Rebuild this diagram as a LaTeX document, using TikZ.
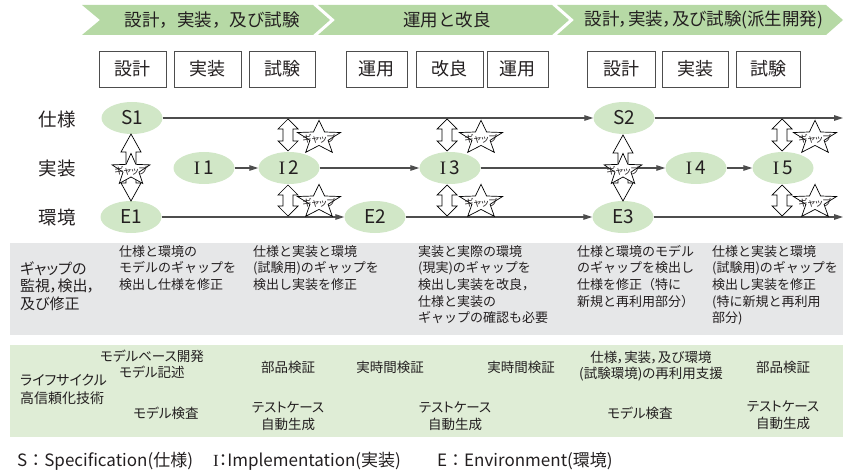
\documentclass[tikz,border=0pt]{standalone}
\usepackage{fontspec}
\setmainfont{Noto Sans CJK JP}
\newfontfamily\pfont{Noto Sans CJK JP}[RawFeature=+palt]
\newfontfamily\serI{Liberation Serif}
\usetikzlibrary{arrows.meta,shapes.geometric}
\definecolor{chev}{HTML}{B6D9A5}
\definecolor{ellfill}{HTML}{D1E7C7}
\definecolor{graypanel}{HTML}{E6E7E8}
\definecolor{greenpanel}{HTML}{DFEDD6}
\definecolor{txt}{HTML}{231F20}
\definecolor{ln}{HTML}{4D4D4D}
\newcommand\blockarrow[4]{%
\draw[barrow] (#1,#2) -- ({#1+10},{#2+#4}) -- ({#1+5},{#2+#4}) -- ({#1+5},{#3-#4}) -- ({#1+10},{#3-#4}) -- (#1,#3) -- ({#1-10},{#3-#4}) -- ({#1-5},{#3-#4}) -- ({#1-5},{#2+#4}) -- ({#1-10},{#2+#4}) -- cycle;}
\newcommand\gapstar[4]{%
\begin{scope}[shift={(#1,#2)},xscale=#4]
\draw[starsty] (-90:#3) -- (-54:{0.42*#3}) -- (-18:#3) -- (18:{0.42*#3}) -- (54:#3) -- (90:{0.42*#3}) -- (126:#3) -- (162:{0.42*#3}) -- (198:#3) -- (234:{0.42*#3}) -- cycle;
\end{scope}
\node[gaptext] at (#1,{#2+1}) {ギャップ};}
\begin{document}
\begin{tikzpicture}[x=1pt,y=-1pt,
 every node/.style={text=txt, inner sep=0pt},
 phasebox/.style={draw=ln, line width=0.8pt, minimum height=36pt, font=\fontsize{18}{18}\selectfont},
 chevtext/.style={font=\fontsize{17.5}{17.5}\selectfont},
 rowlabel/.style={font=\fontsize{18.5}{18.5}\selectfont},
 state/.style={ellipse, fill=ellfill, minimum width=61pt, minimum height=32pt, font=\fontsize{19}{19}\selectfont},
 flow/.style={draw=ln, line width=1.1pt, -{Triangle[length=9pt,width=5.5pt]}},
 barrow/.style={draw=black, fill=white, line width=0.7pt, line join=miter},
 starsty/.style={draw=black, fill=white, line width=0.7pt},
 gaptext/.style={font=\pfont\fontsize{9.5}{9.5}\selectfont},
 coltext/.style={anchor=north west, align=left, font=\fontsize{13}{16.7}\selectfont},
 techtext/.style={align=center, font=\pfont\fontsize{13.5}{16.5}\selectfont},
 legend/.style={anchor=west, font=\fontsize{17}{17}\selectfont}]
\useasboundingbox (0,0) rectangle (845,473);
% panels
\fill[graypanel] (10,243) rectangle (843,335);
\fill[greenpanel] (10,345) rectangle (843,437);
% chevrons
\fill[chev] (82,5) -- (313,5) -- (330,20) -- (313,35) -- (82,35) -- (100,20) -- cycle;
\fill[chev] (318,5) -- (552,5) -- (569,20) -- (552,35) -- (318,35) -- (335,20) -- cycle;
\fill[chev] (557,5) -- (826,5) -- (843,20) -- (826,35) -- (557,35) -- (574,20) -- cycle;
\node[chevtext] (ph1) at (212,20) {設計，実装，及び試験};
\node[chevtext] (ph2) at (447,20) {運用と改良};
\node[chevtext, font=\pfont\fontsize{17.5}{17.5}\selectfont] (ph3) at (704,20) {設計，実装，及び試験(派生開発)};
% activity boxes
\node[phasebox, minimum width=67pt] (b1) at (132.5,69) {設計};
\node[phasebox, minimum width=67pt] (b2) at (207.5,69) {実装};
\node[phasebox, minimum width=66pt] (b3) at (282,69) {試験};
\node[phasebox, minimum width=61pt] (b4) at (376.5,69) {運用};
\node[phasebox, minimum width=67pt] (b5) at (449.5,69) {改良};
\node[phasebox, minimum width=61pt] (b6) at (517.5,69) {運用};
\node[phasebox, minimum width=68pt] (b7) at (621,69) {設計};
\node[phasebox, minimum width=66pt] (b8) at (695,69) {実装};
\node[phasebox, minimum width=64pt] (b9) at (768,69) {試験};
% row labels
\node[rowlabel] (rs) at (57,119) {仕様};
\node[rowlabel] (ri) at (57,169) {実装};
\node[rowlabel] (re) at (57,217) {環境};
% states
\node[state] (S1) at (132,118) {S1};
\node[state] (S2) at (624,118) {S2};
\node[state] (I1) at (204,168) {{\serI I}\,1};
\node[state] (I2) at (289,168) {{\serI I}\,2};
\node[state] (I3) at (450,168) {{\serI I}\,3};
\node[state] (I4) at (696,168) {{\serI I}\,4};
\node[state] (I5) at (783,168) {{\serI I}\,5};
\node[state] (E1) at (131,217) {E1};
\node[state] (E2) at (375,217) {E2};
\node[state] (E3) at (623,217) {E3};
\coordinate (sEnd) at (843,118);
\coordinate (eEnd) at (843,217);
% flows
\draw[flow] (S1) -- (S2);
\draw[flow] (S2) -- (sEnd);
\draw[flow] (I1) -- (I2);
\draw[flow] (I2) -- (I3);
\draw[flow] (I3) -- (I4);
\draw[flow] (I4) -- (I5);
\draw[flow] (E1) -- (E2);
\draw[flow] (E2) -- (E3);
\draw[flow] (E3) -- (eEnd);
% gap arrows and stars
\blockarrow{131}{134}{201}{18}
\gapstar{131}{170}{16.6}{1.2}
\blockarrow{623}{135}{201}{18}
\gapstar{623}{170}{16.6}{1.2}
\blockarrow{288}{119}{151}{10}
\gapstar{319}{138}{17.7}{1.28}
\blockarrow{288}{185}{216}{10}
\gapstar{319}{202}{17.7}{1.28}
\blockarrow{447}{119}{151}{10}
\gapstar{481}{138}{17.7}{1.28}
\blockarrow{447}{185}{216}{10}
\gapstar{481}{202}{17.7}{1.28}
\blockarrow{782}{119}{151}{10}
\gapstar{815}{138}{17.7}{1.28}
\blockarrow{782}{185}{216}{10}
\gapstar{815}{202}{17.7}{1.28}
% gray panel texts
\node[anchor=west, align=left, font=\pfont\fontsize{15}{17.5}\selectfont] (gl) at (20,286) {ギャップの\\監視，検出，\\及び修正};
\node[coltext] (g1) at (119,245) {仕様と環境の\\モデルのギャップを\\検出し仕様を修正};
\node[coltext] (g2) at (253,245) {仕様と実装と環境\\(試験用)のギャップを\\検出し実装を修正};
\node[coltext] (g3) at (418,245) {実装と実際の環境\\(現実)のギャップを\\検出し実装を改良，\\仕様と実装の\\ギャップの確認も必要};
\node[coltext] (g4) at (577,245) {仕様と環境のモデル\\のギャップを検出し\\仕様を修正（特に\\新規と再利用部分）};
\node[coltext] (g5) at (712,245) {仕様と実装と環境\\(試験用)のギャップを\\検出し実装を修正\\(特に新規と再利用\\部分)};
% green panel texts
\node[anchor=west, align=left, font=\pfont\fontsize{14}{18}\selectfont] (tl) at (20,389) {ライフサイクル\\高信頼化技術};
\node[techtext] (t1) at (152,364) {モデルベース開発\\モデル記述};
\node[techtext] (t2) at (166,413) {モデル検査};
\node[techtext] (t3) at (288,367) {部品検証};
\node[techtext] (t4) at (288,416) {テストケース\\自動生成};
\node[techtext] (t5) at (390,367) {実時間検証};
\node[techtext] (t6) at (455,416) {テストケース\\自動生成};
\node[techtext] (t7) at (521,367) {実時間検証};
\node[techtext] (t8) at (651,366) {仕様，実装，及び環境\\(試験環境)の再利用支援};
\node[techtext] (t9) at (783,367) {部品検証};
\node[techtext] (t10) at (640,413) {モデル検査};
\node[techtext] (t11) at (783,415) {テストケース\\自動生成};
% legend
\node[legend] (lS) at (17,461) {S：Specification(仕様)};
\node[legend, font=\pfont\fontsize{17}{17}\selectfont] (lI) at (213,461) {{\serI I}：Implementation(実装)};
\node[legend] (lE) at (437,461) {E：Environment(環境)};
\end{tikzpicture}
\end{document}
